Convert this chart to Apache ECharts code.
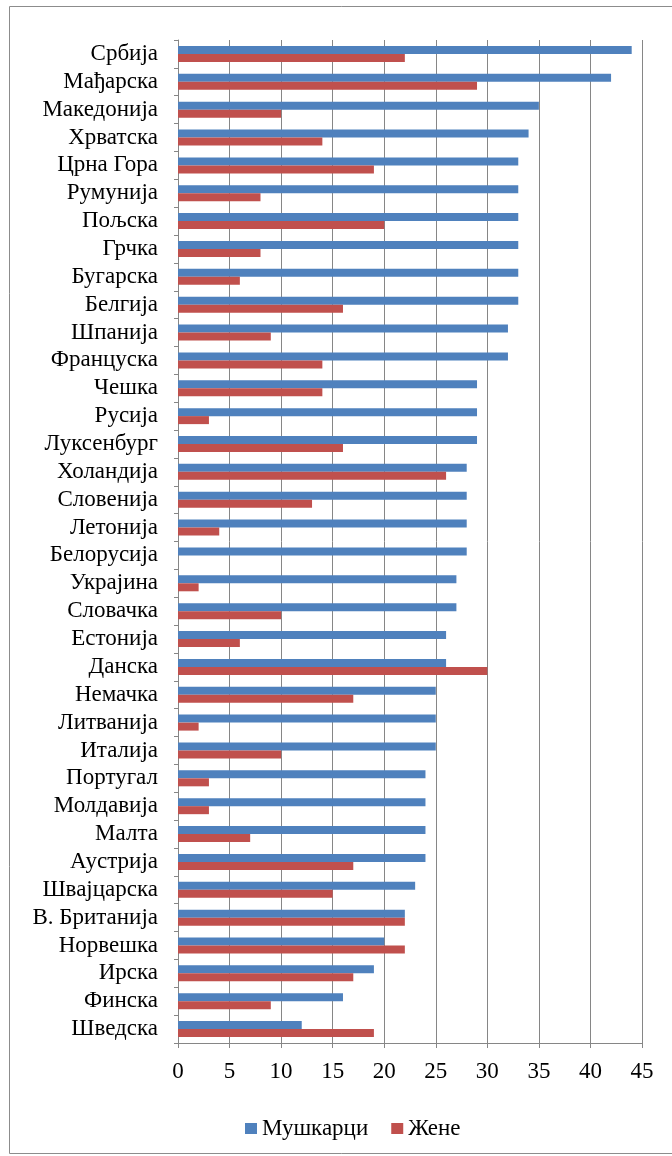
<!DOCTYPE html>
<html>
<head>
<meta charset="utf-8">
<script src="https://cdn.jsdelivr.net/npm/echarts@6/dist/echarts.min.js"></script>
<style>
html,body{margin:0;padding:0;background:#fff;}
#chart{width:672px;height:1156px;}
</style>
</head>
<body>
<div id="chart"></div>
<script>
const categories = ['Србија','Мађарска','Македонија','Хрватска','Црна Гора','Румунија','Пољска','Грчка','Бугарска','Белгија','Шпанија','Француска','Чешка','Русија','Луксенбург','Холандија','Словенија','Летонија','Белорусија','Украјина','Словачка','Естонија','Данска','Немачка','Литванија','Италија','Португал','Молдавија','Малта','Аустрија','Швајцарска','В. Британија','Норвешка','Ирска','Финска','Шведска'];
const men   = [44,42,35,34,33,33,33,33,33,33,32,32,29,29,29,28,28,28,28,27,27,26,26,25,25,25,24,24,24,24,23,22,20,19,16,12];
const women = [22,29,10,14,19,8,20,8,6,16,9,14,14,3,16,26,13,4,0,2,10,6,30,17,2,10,3,3,7,17,15,22,22,17,9,19];
const seriesNames = ['Мушкарци','Жене'];
const xTicks = {min:0, max:45, interval:5};

const chart = echarts.init(document.getElementById('chart'), null, {renderer:'canvas'});
const font = 'Liberation Serif';
chart.setOption({
  animation:false,
  backgroundColor:'#fff',
  graphic:[{type:'rect', shape:{x:9.5,y:6.5,width:670,height:1147}, style:{fill:'none',stroke:'#8c8c8c',lineWidth:1}, silent:true}],
  legend:{
    data:seriesNames, top:1112, left:240, itemWidth:12, itemHeight:11, itemGap:23,
    icon:'rect', textStyle:{fontFamily:font,fontSize:23,color:'#000'}
  },
  grid:{left:178, right:30, top:40, height:1003, containLabel:false},
  xAxis:{
    type:'value', min:xTicks.min, max:xTicks.max, interval:xTicks.interval,
    axisLine:{show:true, lineStyle:{color:'#868686'}},
    axisTick:{show:true, length:5, lineStyle:{color:'#868686'}},
    splitLine:{show:true, lineStyle:{color:'#868686', width:1}},
    axisLabel:{fontFamily:font, fontSize:23, color:'#000', margin:17}
  },
  yAxis:{
    type:'category', data:categories, inverse:true,
    axisLine:{show:true, lineStyle:{color:'#868686'}},
    axisTick:{show:true, length:4, lineStyle:{color:'#868686'}},
    axisLabel:{fontFamily:font, fontSize:23, color:'#000', margin:20, interval:0}
  },
  series:[
    {name:seriesNames[0], type:'bar', data:men, barWidth:8, barGap:'0%', itemStyle:{color:'#4F81BD'}},
    {name:seriesNames[1], type:'bar', data:women, barWidth:8, barGap:'0%', itemStyle:{color:'#C0504D'}}
  ]
});
</script>
</body>
</html>
